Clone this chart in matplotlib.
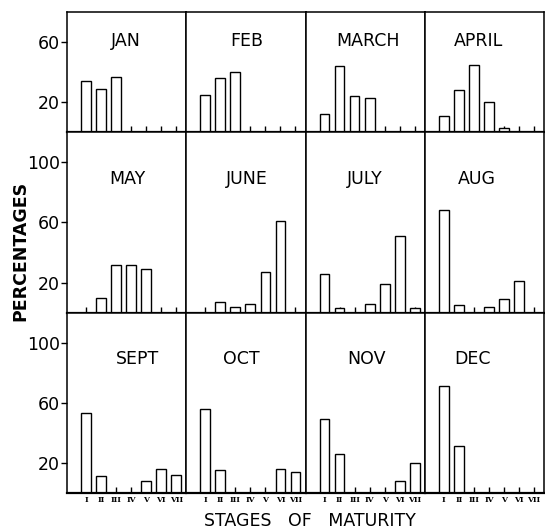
import numpy as np
import matplotlib
matplotlib.use("Agg")
import matplotlib.pyplot as plt

# percentage of fish in each maturity stage, month by month
stages = ["I", "II", "III", "IV", "V", "VI", "VII"]
months = ["JAN", "FEB", "MARCH", "APRIL",
          "MAY", "JUNE", "JULY", "AUG",
          "SEPT", "OCT", "NOV", "DEC"]

jan = [34, 29, 37, 0, 0, 0, 0]
feb = [25, 36, 40, 0, 0, 0, 0]
mar = [12, 44, 24, 23, 0, 0, 0]
apr = [11, 28, 45, 20, 3, 0, 0]
may = [0, 10, 32, 32, 29, 0, 0]
jun = [0, 7, 4, 6, 27, 61, 0]
jul = [26, 3, 0, 6, 19, 51, 3]
aug = [68, 5, 0, 4, 9, 21, 0]
sep = [53, 11, 0, 0, 8, 16, 12]
oct_ = [56, 15, 0, 0, 0, 16, 14]
nov = [49, 26, 0, 0, 0, 8, 20]
dec = [71, 31, 0, 0, 0, 0, 0]

data = [jan, feb, mar, apr, may, jun, jul, aug, sep, oct_, nov, dec]
row_top = [80, 120, 120]
row_ticks = [[20, 60], [20, 60, 100], [20, 60, 100]]
# where each month name sits across its panel
title_x = [0.49, 0.51, 0.52, 0.45,
           0.51, 0.51, 0.50, 0.44,
           0.59, 0.46, 0.51, 0.40]

plt.rcParams['font.family'] = ['DejaVu Sans']

W, H = 545, 531
fig = plt.figure(figsize=(W / 100, H / 100), dpi=100)
gs = fig.add_gridspec(3, 4, left=67 / W, right=544 / W, top=1 - 12 / H, bottom=1 - 493 / H,
                      height_ratios=row_top, hspace=0, wspace=0)

x = np.arange(len(stages))
for i, vals in enumerate(data):
    r, c = divmod(i, 4)
    ax = fig.add_subplot(gs[r, c])
    ax.set_axisbelow(True)  # bars hide the stage ticks
    ax.bar(x, vals, width=0.65, color="white", edgecolor="black", linewidth=1.0)
    ax.set_xlim(-1.27, 6.67)
    ax.set_ylim(0, row_top[r])
    for s in ax.spines.values():
        s.set_linewidth(1.1)
        s.set_zorder(3)
    ax.spines["bottom"].set_linewidth(1.6)

    ax.set_xticks(x)
    ax.tick_params(axis="x", direction="in", length=4, width=1.0)
    if r == 2:
        ax.set_xticklabels(stages, fontsize=5.5, family="DejaVu Serif", fontweight="bold")
        ax.tick_params(axis="x", pad=2)
    else:
        ax.set_xticklabels([])

    if c == 0:
        ax.set_yticks(row_ticks[r])
        ax.tick_params(axis="y", direction="out", length=4, width=1.0, pad=1, labelsize=12.5)
    else:
        ax.set_yticks([])

    ax.text(title_x[i], 0.715, months[i], transform=ax.transAxes,
            ha="center", va="baseline", fontsize=12.5)

fig.text(20 / W, 1 - 251 / H, "PERCENTAGES", rotation=90, ha="center", va="center",
         fontsize=12.5, fontweight="bold")
fig.text(310 / W, 1 - 521 / H, "STAGES   OF   MATURITY", ha="center", va="center",
         fontsize=12.5)

fig.savefig("out.png", dpi=100)
